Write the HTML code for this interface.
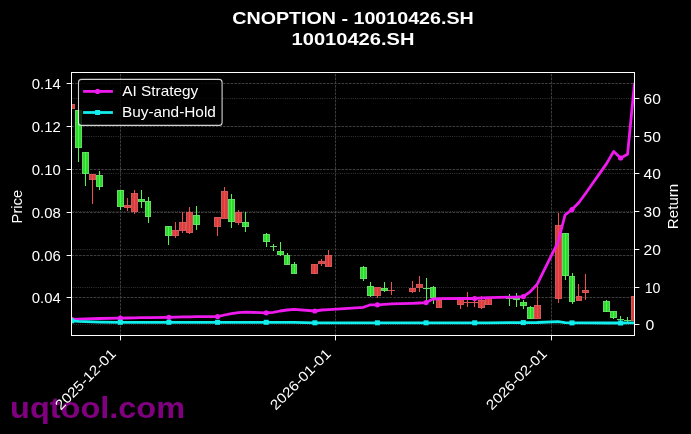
<!DOCTYPE html><html><head><meta charset="utf-8"><style>
html,body{margin:0;padding:0;background:#000;width:691px;height:434px;overflow:hidden}
svg{display:block;will-change:transform}
text{font-family:"Liberation Sans", sans-serif;fill:#fff}
</style></head><body>
<svg width="691" height="434" viewBox="0 0 691 434">
<rect x="0" y="0" width="691" height="434" fill="#000"/>
<defs><clipPath id="ax"><rect x="71.50" y="72.50" width="563.00" height="263.00"/></clipPath></defs>
<g clip-path="url(#ax)"><line x1="71.50" y1="83.50" x2="634.50" y2="83.50" stroke="#4c4c4c" stroke-width="0.8" stroke-dasharray="2.6 1.1"/><line x1="71.50" y1="126.50" x2="634.50" y2="126.50" stroke="#4c4c4c" stroke-width="0.8" stroke-dasharray="2.6 1.1"/><line x1="71.50" y1="169.50" x2="634.50" y2="169.50" stroke="#4c4c4c" stroke-width="0.8" stroke-dasharray="2.6 1.1"/><line x1="71.50" y1="212.50" x2="634.50" y2="212.50" stroke="#4c4c4c" stroke-width="0.8" stroke-dasharray="2.6 1.1"/><line x1="71.50" y1="255.50" x2="634.50" y2="255.50" stroke="#4c4c4c" stroke-width="0.8" stroke-dasharray="2.6 1.1"/><line x1="71.50" y1="297.50" x2="634.50" y2="297.50" stroke="#4c4c4c" stroke-width="0.8" stroke-dasharray="2.6 1.1"/><line x1="120.50" y1="335.50" x2="120.50" y2="72.50" stroke="#4c4c4c" stroke-width="0.8" stroke-dasharray="2.6 1.1"/><line x1="335.50" y1="335.50" x2="335.50" y2="72.50" stroke="#4c4c4c" stroke-width="0.8" stroke-dasharray="2.6 1.1"/><line x1="551.50" y1="335.50" x2="551.50" y2="72.50" stroke="#4c4c4c" stroke-width="0.8" stroke-dasharray="2.6 1.1"/><line x1="71.50" y1="324.50" x2="634.50" y2="324.50" stroke="#505050" stroke-width="0.8" stroke-dasharray="0.8 1.4"/><line x1="71.50" y1="287.50" x2="634.50" y2="287.50" stroke="#505050" stroke-width="0.8" stroke-dasharray="0.8 1.4"/><line x1="71.50" y1="249.50" x2="634.50" y2="249.50" stroke="#505050" stroke-width="0.8" stroke-dasharray="0.8 1.4"/><line x1="71.50" y1="211.50" x2="634.50" y2="211.50" stroke="#505050" stroke-width="0.8" stroke-dasharray="0.8 1.4"/><line x1="71.50" y1="173.50" x2="634.50" y2="173.50" stroke="#505050" stroke-width="0.8" stroke-dasharray="0.8 1.4"/><line x1="71.50" y1="136.50" x2="634.50" y2="136.50" stroke="#505050" stroke-width="0.8" stroke-dasharray="0.8 1.4"/><line x1="71.50" y1="98.50" x2="634.50" y2="98.50" stroke="#505050" stroke-width="0.8" stroke-dasharray="0.8 1.4"/></g>
<g clip-path="url(#ax)"><rect x="68.5" y="104.5" width="6" height="4" fill="#d83e3e" stroke="#cf5858" stroke-width="1"/><line x1="71.5" y1="104" x2="71.5" y2="109" stroke="#f04e4e" stroke-width="1"/><rect x="75.5" y="110.5" width="6" height="37" fill="#2ed82e" stroke="#66d866" stroke-width="1"/><line x1="78.5" y1="110" x2="78.5" y2="162" stroke="#4cf84c" stroke-width="1"/><rect x="82.5" y="152.5" width="6" height="21" fill="#2ed82e" stroke="#66d866" stroke-width="1"/><line x1="85.5" y1="152" x2="85.5" y2="186" stroke="#4cf84c" stroke-width="1"/><rect x="89.5" y="174.5" width="6" height="5" fill="#d83e3e" stroke="#cf5858" stroke-width="1"/><line x1="92.5" y1="174" x2="92.5" y2="204" stroke="#f04e4e" stroke-width="1"/><rect x="96.5" y="175.5" width="6" height="11" fill="#2ed82e" stroke="#66d866" stroke-width="1"/><line x1="99.5" y1="171" x2="99.5" y2="190" stroke="#4cf84c" stroke-width="1"/><rect x="117.5" y="190.5" width="6" height="16" fill="#2ed82e" stroke="#66d866" stroke-width="1"/><line x1="120.5" y1="190" x2="120.5" y2="210" stroke="#4cf84c" stroke-width="1"/><rect x="124.5" y="205.5" width="6" height="2" fill="#d83e3e" stroke="#cf5858" stroke-width="1"/><line x1="127.5" y1="198" x2="127.5" y2="211" stroke="#f04e4e" stroke-width="1"/><rect x="131.5" y="193.5" width="6" height="18" fill="#d83e3e" stroke="#cf5858" stroke-width="1"/><line x1="134.5" y1="190" x2="134.5" y2="214" stroke="#f04e4e" stroke-width="1"/><rect x="138.5" y="199.5" width="6" height="2" fill="#2ed82e" stroke="#66d866" stroke-width="1"/><line x1="141.5" y1="190" x2="141.5" y2="208" stroke="#4cf84c" stroke-width="1"/><rect x="145.5" y="201.5" width="5" height="15" fill="#2ed82e" stroke="#66d866" stroke-width="1"/><line x1="148.5" y1="197" x2="148.5" y2="223" stroke="#4cf84c" stroke-width="1"/><rect x="165.5" y="226.5" width="6" height="9" fill="#2ed82e" stroke="#66d866" stroke-width="1"/><line x1="168.5" y1="226" x2="168.5" y2="245" stroke="#4cf84c" stroke-width="1"/><rect x="172.5" y="230.5" width="6" height="5" fill="#d83e3e" stroke="#cf5858" stroke-width="1"/><line x1="175.5" y1="222" x2="175.5" y2="238" stroke="#f04e4e" stroke-width="1"/><rect x="179.5" y="222.5" width="6" height="8" fill="#d83e3e" stroke="#cf5858" stroke-width="1"/><line x1="182.5" y1="212" x2="182.5" y2="233" stroke="#f04e4e" stroke-width="1"/><rect x="186.5" y="212.5" width="6" height="20" fill="#d83e3e" stroke="#cf5858" stroke-width="1"/><line x1="189.5" y1="207" x2="189.5" y2="234" stroke="#f04e4e" stroke-width="1"/><rect x="193.5" y="215.5" width="6" height="9" fill="#2ed82e" stroke="#66d866" stroke-width="1"/><line x1="196.5" y1="206" x2="196.5" y2="230" stroke="#4cf84c" stroke-width="1"/><rect x="214.5" y="217.5" width="6" height="9" fill="#d83e3e" stroke="#cf5858" stroke-width="1"/><line x1="217.5" y1="217" x2="217.5" y2="236" stroke="#f04e4e" stroke-width="1"/><rect x="221.5" y="191.5" width="6" height="27" fill="#d83e3e" stroke="#cf5858" stroke-width="1"/><line x1="224.5" y1="187" x2="224.5" y2="219" stroke="#f04e4e" stroke-width="1"/><rect x="228.5" y="199.5" width="6" height="22" fill="#2ed82e" stroke="#66d866" stroke-width="1"/><line x1="231.5" y1="194" x2="231.5" y2="228" stroke="#4cf84c" stroke-width="1"/><rect x="235.5" y="212.5" width="6" height="10" fill="#d83e3e" stroke="#cf5858" stroke-width="1"/><line x1="238.5" y1="210" x2="238.5" y2="225" stroke="#f04e4e" stroke-width="1"/><rect x="242.5" y="222.5" width="6" height="4" fill="#2ed82e" stroke="#66d866" stroke-width="1"/><line x1="245.5" y1="212" x2="245.5" y2="232" stroke="#4cf84c" stroke-width="1"/><rect x="263.5" y="234.5" width="6" height="7" fill="#2ed82e" stroke="#66d866" stroke-width="1"/><line x1="266.5" y1="233" x2="266.5" y2="247" stroke="#4cf84c" stroke-width="1"/><rect x="270" y="246" width="7" height="1" fill="#66d866"/><line x1="273.5" y1="244" x2="273.5" y2="251" stroke="#4cf84c" stroke-width="1"/><rect x="277.5" y="251.5" width="6" height="3" fill="#2ed82e" stroke="#66d866" stroke-width="1"/><line x1="280.5" y1="242" x2="280.5" y2="256" stroke="#4cf84c" stroke-width="1"/><rect x="284.5" y="255.5" width="5" height="9" fill="#2ed82e" stroke="#66d866" stroke-width="1"/><line x1="287.5" y1="253" x2="287.5" y2="265" stroke="#4cf84c" stroke-width="1"/><rect x="291.5" y="264.5" width="5" height="9" fill="#2ed82e" stroke="#66d866" stroke-width="1"/><line x1="294.5" y1="262" x2="294.5" y2="274" stroke="#4cf84c" stroke-width="1"/><rect x="311.5" y="264.5" width="6" height="9" fill="#d83e3e" stroke="#cf5858" stroke-width="1"/><line x1="314.5" y1="264" x2="314.5" y2="274" stroke="#f04e4e" stroke-width="1"/><rect x="318.5" y="261.5" width="6" height="2" fill="#d83e3e" stroke="#cf5858" stroke-width="1"/><line x1="321.5" y1="259" x2="321.5" y2="266" stroke="#f04e4e" stroke-width="1"/><rect x="325.5" y="255.5" width="6" height="11" fill="#d83e3e" stroke="#cf5858" stroke-width="1"/><line x1="328.5" y1="250" x2="328.5" y2="267" stroke="#f04e4e" stroke-width="1"/><rect x="360.5" y="267.5" width="6" height="11" fill="#2ed82e" stroke="#66d866" stroke-width="1"/><line x1="363.5" y1="266" x2="363.5" y2="281" stroke="#4cf84c" stroke-width="1"/><rect x="367.5" y="286.5" width="6" height="9" fill="#2ed82e" stroke="#66d866" stroke-width="1"/><line x1="370.5" y1="282" x2="370.5" y2="297" stroke="#4cf84c" stroke-width="1"/><rect x="374.5" y="287.5" width="6" height="8" fill="#d83e3e" stroke="#cf5858" stroke-width="1"/><line x1="377.5" y1="287" x2="377.5" y2="298" stroke="#f04e4e" stroke-width="1"/><rect x="381.5" y="288.5" width="6" height="2" fill="#2ed82e" stroke="#66d866" stroke-width="1"/><line x1="384.5" y1="282" x2="384.5" y2="292" stroke="#4cf84c" stroke-width="1"/><rect x="388" y="290" width="7" height="1" fill="#cf5858"/><line x1="391.5" y1="282" x2="391.5" y2="295" stroke="#f04e4e" stroke-width="1"/><rect x="409.5" y="288.5" width="6" height="3" fill="#d83e3e" stroke="#cf5858" stroke-width="1"/><line x1="412.5" y1="281" x2="412.5" y2="293" stroke="#f04e4e" stroke-width="1"/><rect x="416.5" y="284.5" width="6" height="3" fill="#d83e3e" stroke="#cf5858" stroke-width="1"/><line x1="419.5" y1="276" x2="419.5" y2="292" stroke="#f04e4e" stroke-width="1"/><rect x="423" y="288" width="7" height="1" fill="#66d866"/><line x1="426.5" y1="278" x2="426.5" y2="301" stroke="#4cf84c" stroke-width="1"/><rect x="430.5" y="287.5" width="5" height="10" fill="#2ed82e" stroke="#66d866" stroke-width="1"/><line x1="433.5" y1="286" x2="433.5" y2="304" stroke="#4cf84c" stroke-width="1"/><rect x="436.5" y="300.5" width="5" height="7" fill="#d83e3e" stroke="#cf5858" stroke-width="1"/><line x1="439.5" y1="298" x2="439.5" y2="308" stroke="#f04e4e" stroke-width="1"/><rect x="457.5" y="297.5" width="6" height="7" fill="#d83e3e" stroke="#cf5858" stroke-width="1"/><line x1="460.5" y1="297" x2="460.5" y2="309" stroke="#f04e4e" stroke-width="1"/><rect x="464" y="302" width="7" height="1" fill="#cf5858"/><line x1="467.5" y1="292" x2="467.5" y2="307" stroke="#f04e4e" stroke-width="1"/><rect x="471" y="302" width="7" height="1" fill="#cf5858"/><line x1="474.5" y1="296" x2="474.5" y2="307" stroke="#f04e4e" stroke-width="1"/><rect x="478.5" y="300.5" width="6" height="7" fill="#d83e3e" stroke="#cf5858" stroke-width="1"/><line x1="481.5" y1="296" x2="481.5" y2="309" stroke="#f04e4e" stroke-width="1"/><rect x="485.5" y="298.5" width="6" height="6" fill="#d83e3e" stroke="#cf5858" stroke-width="1"/><line x1="488.5" y1="297" x2="488.5" y2="305" stroke="#f04e4e" stroke-width="1"/><rect x="506" y="298" width="7" height="1" fill="#66d866"/><line x1="509.5" y1="294" x2="509.5" y2="306" stroke="#4cf84c" stroke-width="1"/><rect x="513" y="298" width="7" height="2" fill="#66d866"/><line x1="516.5" y1="293" x2="516.5" y2="307" stroke="#4cf84c" stroke-width="1"/><rect x="520.5" y="302.5" width="6" height="3" fill="#2ed82e" stroke="#66d866" stroke-width="1"/><line x1="523.5" y1="300" x2="523.5" y2="309" stroke="#4cf84c" stroke-width="1"/><rect x="527.5" y="307.5" width="6" height="11" fill="#2ed82e" stroke="#66d866" stroke-width="1"/><line x1="530.5" y1="306" x2="530.5" y2="319" stroke="#4cf84c" stroke-width="1"/><rect x="534.5" y="305.5" width="6" height="13" fill="#d83e3e" stroke="#cf5858" stroke-width="1"/><line x1="537.5" y1="286" x2="537.5" y2="319" stroke="#f04e4e" stroke-width="1"/><rect x="555.5" y="225.5" width="6" height="73" fill="#d83e3e" stroke="#cf5858" stroke-width="1"/><line x1="558.5" y1="213" x2="558.5" y2="303" stroke="#f04e4e" stroke-width="1"/><rect x="562.5" y="233.5" width="6" height="42" fill="#2ed82e" stroke="#66d866" stroke-width="1"/><line x1="565.5" y1="233" x2="565.5" y2="280" stroke="#4cf84c" stroke-width="1"/><rect x="569.5" y="276.5" width="5" height="25" fill="#2ed82e" stroke="#66d866" stroke-width="1"/><line x1="572.5" y1="273" x2="572.5" y2="304" stroke="#4cf84c" stroke-width="1"/><rect x="576.5" y="296.5" width="5" height="4" fill="#d83e3e" stroke="#cf5858" stroke-width="1"/><line x1="578.5" y1="284" x2="578.5" y2="301" stroke="#f04e4e" stroke-width="1"/><rect x="582.5" y="290.5" width="6" height="2" fill="#d83e3e" stroke="#cf5858" stroke-width="1"/><line x1="585.5" y1="274" x2="585.5" y2="300" stroke="#f04e4e" stroke-width="1"/><rect x="603.5" y="301.5" width="6" height="10" fill="#2ed82e" stroke="#66d866" stroke-width="1"/><line x1="606.5" y1="300" x2="606.5" y2="312" stroke="#4cf84c" stroke-width="1"/><rect x="610.5" y="311.5" width="6" height="6" fill="#2ed82e" stroke="#66d866" stroke-width="1"/><line x1="613.5" y1="311" x2="613.5" y2="319" stroke="#4cf84c" stroke-width="1"/><rect x="617" y="319" width="7" height="1" fill="#66d866"/><line x1="620.5" y1="316" x2="620.5" y2="322" stroke="#4cf84c" stroke-width="1"/><rect x="624" y="320" width="7" height="1" fill="#66d866"/><line x1="627.5" y1="317" x2="627.5" y2="322" stroke="#4cf84c" stroke-width="1"/><rect x="631.5" y="296.5" width="6" height="24" fill="#d83e3e" stroke="#cf5858" stroke-width="1"/><line x1="634.5" y1="296" x2="634.5" y2="321" stroke="#f04e4e" stroke-width="1"/></g>
<g clip-path="url(#ax)"><polyline points="71.66,319.30 78.61,319.10 85.56,318.90 92.50,318.70 99.45,318.50 120.30,318.20 127.25,318.00 134.20,317.90 141.15,317.70 148.10,317.60 168.94,317.30 175.89,317.10 182.84,316.90 189.79,316.80 196.74,316.70 217.59,316.60 224.53,315.00 231.48,313.60 238.43,312.60 245.38,312.20 266.23,312.80 273.18,312.40 280.13,311.00 287.08,310.00 294.02,309.30 314.87,311.00 321.82,310.00 328.77,309.60 363.51,307.30 370.46,304.80 377.41,304.80 384.36,304.30 391.31,303.90 412.16,303.30 419.11,303.00 426.06,302.60 433.00,299.00 439.95,298.70 460.80,298.50 467.75,298.50 474.70,298.50 481.65,298.00 488.60,297.60 509.44,297.10 516.39,297.00 523.34,296.60 530.29,291.60 537.24,284.20 558.09,242.00 565.04,215.00 571.99,209.60 578.93,202.50 585.88,193.00 606.73,163.40 613.68,151.40 620.63,158.00 627.58,154.20 634.53,83.00" fill="none" stroke="#ee1aee" stroke-width="2.8" stroke-linejoin="round" stroke-linecap="butt"/><circle cx="71.66" cy="319.30" r="2.6" fill="#ee1aee"/><circle cx="120.30" cy="318.20" r="2.6" fill="#ee1aee"/><circle cx="168.94" cy="317.30" r="2.6" fill="#ee1aee"/><circle cx="217.59" cy="316.60" r="2.6" fill="#ee1aee"/><circle cx="266.23" cy="312.80" r="2.6" fill="#ee1aee"/><circle cx="314.87" cy="311.00" r="2.6" fill="#ee1aee"/><circle cx="377.41" cy="304.80" r="2.6" fill="#ee1aee"/><circle cx="426.06" cy="302.60" r="2.6" fill="#ee1aee"/><circle cx="474.70" cy="298.50" r="2.6" fill="#ee1aee"/><circle cx="523.34" cy="296.60" r="2.6" fill="#ee1aee"/><circle cx="571.99" cy="209.60" r="2.6" fill="#ee1aee"/><circle cx="620.63" cy="158.00" r="2.6" fill="#ee1aee"/><polyline points="71.66,320.80 78.61,321.30 85.56,321.60 92.50,321.90 99.45,322.10 120.30,322.30 127.25,322.30 134.20,322.30 141.15,322.30 148.10,322.30 168.94,322.30 175.89,322.30 182.84,322.30 189.79,322.30 196.74,322.30 217.59,322.30 224.53,322.30 231.48,322.30 238.43,322.30 245.38,322.30 266.23,322.30 273.18,322.30 280.13,322.30 287.08,322.30 294.02,322.30 314.87,322.80 321.82,322.80 328.77,322.80 363.51,322.80 370.46,322.80 377.41,322.80 384.36,322.80 391.31,322.80 412.16,322.80 419.11,322.80 426.06,322.80 433.00,322.80 439.95,322.80 460.80,322.80 467.75,322.80 474.70,322.80 481.65,322.80 488.60,322.80 509.44,322.60 516.39,322.60 523.34,322.60 530.29,322.60 537.24,322.50 558.09,321.60 565.04,322.60 571.99,322.90 578.93,322.90 585.88,322.90 606.73,323.00 613.68,323.00 620.63,323.00 627.58,322.90 634.53,322.80" fill="none" stroke="#12eeee" stroke-width="2.8" stroke-linejoin="round" stroke-linecap="butt"/><rect x="69.16" y="318.30" width="5" height="5" fill="#12eeee"/><rect x="117.80" y="319.80" width="5" height="5" fill="#12eeee"/><rect x="166.44" y="319.80" width="5" height="5" fill="#12eeee"/><rect x="215.09" y="319.80" width="5" height="5" fill="#12eeee"/><rect x="263.73" y="319.80" width="5" height="5" fill="#12eeee"/><rect x="312.37" y="320.30" width="5" height="5" fill="#12eeee"/><rect x="374.91" y="320.30" width="5" height="5" fill="#12eeee"/><rect x="423.56" y="320.30" width="5" height="5" fill="#12eeee"/><rect x="472.20" y="320.30" width="5" height="5" fill="#12eeee"/><rect x="520.84" y="320.10" width="5" height="5" fill="#12eeee"/><rect x="569.49" y="320.40" width="5" height="5" fill="#12eeee"/><rect x="618.13" y="320.50" width="5" height="5" fill="#12eeee"/></g>
<rect x="71.50" y="72.50" width="563.00" height="263.00" fill="none" stroke="#fff" stroke-width="1"/>
<line x1="66.60" y1="297.50" x2="71.50" y2="297.50" stroke="#fff" stroke-width="1"/>
<text x="60.8" y="302.70" font-size="13.9" text-anchor="end" textLength="29.0" lengthAdjust="spacingAndGlyphs">0.04</text>
<line x1="66.60" y1="255.50" x2="71.50" y2="255.50" stroke="#fff" stroke-width="1"/>
<text x="60.8" y="260.70" font-size="13.9" text-anchor="end" textLength="29.0" lengthAdjust="spacingAndGlyphs">0.06</text>
<line x1="66.60" y1="212.50" x2="71.50" y2="212.50" stroke="#fff" stroke-width="1"/>
<text x="60.8" y="217.70" font-size="13.9" text-anchor="end" textLength="29.0" lengthAdjust="spacingAndGlyphs">0.08</text>
<line x1="66.60" y1="169.50" x2="71.50" y2="169.50" stroke="#fff" stroke-width="1"/>
<text x="60.8" y="174.70" font-size="13.9" text-anchor="end" textLength="29.0" lengthAdjust="spacingAndGlyphs">0.10</text>
<line x1="66.60" y1="126.50" x2="71.50" y2="126.50" stroke="#fff" stroke-width="1"/>
<text x="60.8" y="131.70" font-size="13.9" text-anchor="end" textLength="29.0" lengthAdjust="spacingAndGlyphs">0.12</text>
<line x1="66.60" y1="83.50" x2="71.50" y2="83.50" stroke="#fff" stroke-width="1"/>
<text x="60.8" y="88.70" font-size="13.9" text-anchor="end" textLength="29.0" lengthAdjust="spacingAndGlyphs">0.14</text>
<line x1="634.50" y1="324.50" x2="639.40" y2="324.50" stroke="#fff" stroke-width="1"/>
<text x="645.50" y="329.70" font-size="13.9" textLength="8.8" lengthAdjust="spacingAndGlyphs">0</text>
<line x1="634.50" y1="287.50" x2="639.40" y2="287.50" stroke="#fff" stroke-width="1"/>
<text x="644.70" y="292.70" font-size="13.9" textLength="15.8" lengthAdjust="spacingAndGlyphs">10</text>
<line x1="634.50" y1="249.50" x2="639.40" y2="249.50" stroke="#fff" stroke-width="1"/>
<text x="643.50" y="254.70" font-size="13.9" textLength="17.3" lengthAdjust="spacingAndGlyphs">20</text>
<line x1="634.50" y1="211.50" x2="639.40" y2="211.50" stroke="#fff" stroke-width="1"/>
<text x="643.50" y="216.70" font-size="13.9" textLength="17.3" lengthAdjust="spacingAndGlyphs">30</text>
<line x1="634.50" y1="173.50" x2="639.40" y2="173.50" stroke="#fff" stroke-width="1"/>
<text x="643.50" y="178.70" font-size="13.9" textLength="17.3" lengthAdjust="spacingAndGlyphs">40</text>
<line x1="634.50" y1="136.50" x2="639.40" y2="136.50" stroke="#fff" stroke-width="1"/>
<text x="643.50" y="141.70" font-size="13.9" textLength="17.3" lengthAdjust="spacingAndGlyphs">50</text>
<line x1="634.50" y1="98.50" x2="639.40" y2="98.50" stroke="#fff" stroke-width="1"/>
<text x="643.50" y="103.70" font-size="13.9" textLength="17.3" lengthAdjust="spacingAndGlyphs">60</text>
<line x1="120.50" y1="335.50" x2="120.50" y2="340.40" stroke="#fff" stroke-width="1"/>
<line x1="335.50" y1="335.50" x2="335.50" y2="340.40" stroke="#fff" stroke-width="1"/>
<line x1="551.50" y1="335.50" x2="551.50" y2="340.40" stroke="#fff" stroke-width="1"/>
<text transform="translate(22.0,206.65) rotate(-90)" font-size="13.9" text-anchor="middle" textLength="33.5" lengthAdjust="spacingAndGlyphs">Price</text>
<text transform="translate(677.6,206.45) rotate(-90)" font-size="13.9" text-anchor="middle" textLength="45.4" lengthAdjust="spacingAndGlyphs">Return</text>
<text x="353.0" y="24.0" font-size="17" font-weight="bold" text-anchor="middle" textLength="241.5" lengthAdjust="spacingAndGlyphs">CNOPTION - 10010426.SH</text>
<text x="353.0" y="44.5" font-size="17" font-weight="bold" text-anchor="middle" textLength="122.8" lengthAdjust="spacingAndGlyphs">10010426.SH</text>
<rect x="78.5" y="79.4" width="143.6" height="46.0" rx="3" ry="3" fill="rgba(0,0,0,0.8)" stroke="#ffffff" stroke-opacity="0.82" stroke-width="1.1"/>
<line x1="83.1" y1="91.4" x2="112.9" y2="91.4" stroke="#ee1aee" stroke-width="2.8"/>
<circle cx="97.6" cy="91.4" r="2.6" fill="#ee1aee"/>
<text x="122.3" y="96.3" font-size="13.9" textLength="76.0" lengthAdjust="spacingAndGlyphs">AI Strategy</text>
<line x1="83.1" y1="112.5" x2="112.9" y2="112.5" stroke="#12eeee" stroke-width="2.8"/>
<rect x="95.1" y="110.0" width="5" height="5" fill="#12eeee"/>
<text x="121.9" y="116.7" font-size="13.9" textLength="94.0" lengthAdjust="spacingAndGlyphs">Buy-and-Hold</text>
<text x="10.1" y="417.6" font-size="29.5" font-weight="bold" fill="#800080" style="fill:#800080" textLength="175.0" lengthAdjust="spacingAndGlyphs">uqtool.com</text>
<text transform="translate(116.74,354.76) rotate(-45)" font-size="13.9" text-anchor="end" textLength="79.1" lengthAdjust="spacingAndGlyphs">2025-12-01</text>
<text transform="translate(331.74,354.76) rotate(-45)" font-size="13.9" text-anchor="end" textLength="79.1" lengthAdjust="spacingAndGlyphs">2026-01-01</text>
<text transform="translate(547.74,354.76) rotate(-45)" font-size="13.9" text-anchor="end" textLength="79.1" lengthAdjust="spacingAndGlyphs">2026-02-01</text>
</svg></body></html>
